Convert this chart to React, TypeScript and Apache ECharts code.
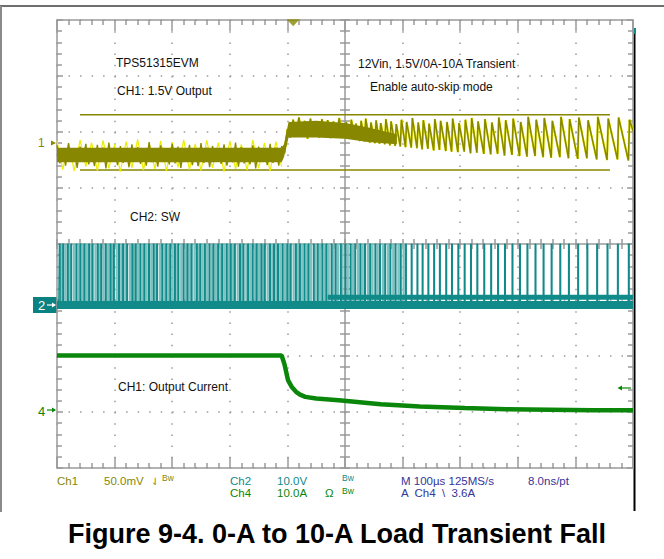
import React, { useEffect, useRef } from "react";
import * as echarts from "echarts";

// Screen units are scope divisions: x -5..5 (100 µs/div), y -4..4

// ---- CH1 (1.5 V output, 50 mV/div) ----
const ch1LimitHigh = 2.31;
const ch1LimitLow = 1.32;
const ch1LimitStart = -4.6;
const ch1LimitEnd = 4.6;

const ch1PreStart = -5.0;
const ch1PreStep = 0.05;
const ch1PreNoise = [
  1.76, 1.44, 1.71, 1.40, 1.80, 1.47, 1.68, 1.36, 1.74, 1.50, 1.79, 1.42, 1.66, 1.39, 1.77, 1.46, 1.72, 1.35, 1.81, 1.49,
  1.69, 1.41, 1.75, 1.45, 1.70, 1.37, 1.78, 1.48, 1.73, 1.43, 1.67, 1.40, 1.82, 1.46, 1.71, 1.38, 1.76, 1.50, 1.69, 1.42,
  1.79, 1.44, 1.74, 1.36, 1.70, 1.47, 1.77, 1.41, 1.68, 1.39, 1.80, 1.45, 1.72, 1.37, 1.75, 1.49, 1.71, 1.43, 1.78, 1.40,
  1.66, 1.46, 1.81, 1.38, 1.73, 1.44, 1.70, 1.42, 1.76, 1.35, 1.74, 1.48, 1.69, 1.41, 1.79, 1.45, 1.72, 1.40, 1.75,
];
const ch1GlowStep = 0.1;
const ch1PreGlow = [
  1.84, 1.33, 1.79, 1.30, 1.86, 1.38, 1.81, 1.31, 1.85, 1.35, 1.78, 1.29, 1.83, 1.36, 1.87, 1.32, 1.80, 1.34, 1.84, 1.30,
  1.82, 1.37, 1.86, 1.33, 1.79, 1.31, 1.85, 1.36, 1.81, 1.29, 1.84, 1.34, 1.78, 1.32, 1.86, 1.35, 1.80, 1.30, 1.83, 1.38,
];

const ch1BandTime = [-5.0, -1.10, -1.06, -0.98, -0.5, 0.0, 0.4, 0.9];
const ch1BandLow = [1.46, 1.46, 1.55, 1.90, 1.90, 1.88, 1.82, 1.78];
const ch1BandHigh = [1.72, 1.72, 1.78, 2.18, 2.20, 2.16, 2.08, 1.96];

const ch1PostStart = -1.05;
const ch1PostStep = 0.05;
const ch1PostNoise = [
  1.62, 2.05, 1.90, 2.22, 1.92, 2.26, 1.95, 2.20, 1.88, 2.24, 1.93, 2.18, 1.90, 2.23, 1.96, 2.21, 1.89, 2.19, 1.94, 2.25, 1.91,
];

// skip-mode switching instants (shared by CH1 ripple teeth and CH2 pulses)
const skipPulseTimes = [
  0.00, 0.09, 0.17, 0.26, 0.34, 0.43, 0.52, 0.60, 0.69, 0.78, 0.87, 0.96, 1.05, 1.15, 1.25, 1.34, 1.44, 1.54, 1.64, 1.75,
  1.85, 1.96, 2.07, 2.18, 2.29, 2.41, 2.53, 2.65, 2.77, 2.90, 3.03, 3.16, 3.30, 3.44, 3.58, 3.73, 3.88, 4.04, 4.20, 4.37,
  4.55, 4.73, 4.92,
];
const ch1Peaks = [
  2.18, 2.22, 2.15, 2.20, 2.24, 2.17, 2.21, 2.16, 2.23, 2.19, 2.14, 2.22, 2.18, 2.25, 2.17, 2.21, 2.15, 2.23, 2.20, 2.18,
  2.24, 2.16, 2.22, 2.25, 2.19, 2.23, 2.17, 2.26, 2.21, 2.24, 2.18, 2.27, 2.22, 2.25, 2.20, 2.27, 2.23, 2.26, 2.21, 2.27,
  2.24, 2.26, 2.22,
];
const ch1Valleys = [
  1.90, 1.88, 1.86, 1.84, 1.83, 1.81, 1.80, 1.79, 1.78, 1.76, 1.75, 1.74, 1.73, 1.72, 1.71, 1.69, 1.70, 1.67, 1.68, 1.66,
  1.65, 1.64, 1.65, 1.62, 1.63, 1.61, 1.60, 1.61, 1.58, 1.59, 1.57, 1.56, 1.57, 1.55, 1.54, 1.55, 1.53, 1.52, 1.53, 1.51,
  1.50, 1.51, 1.49,
];
const ch1EndValue = 2.02;

// ---- CH2 (SW node, 10 V/div) ----
const ch2Ground = -1.09;
const ch2High = 0.0;
const ch2RingLevel = -0.95;
const ch2RingStart = -0.3;
const ch2DensePulseTimes = [
  -4.96, -4.90, -4.82, -4.76, -4.67, -4.60, -4.53, -4.45, -4.39, -4.30, -4.24, -4.16, -4.08, -4.02, -3.93, -3.86, -3.79,
  -3.70, -3.64, -3.56, -3.49, -3.41, -3.33, -3.27, -3.18, -3.11, -3.04, -2.96, -2.90, -2.81, -2.74, -2.67, -2.58, -2.52,
  -2.44, -2.36, -2.29, -2.21, -2.14, -2.06, -1.99, -1.92, -1.83, -1.77, -1.69, -1.61, -1.54, -1.46, -1.40, -1.31, -1.24,
  -1.17, -1.09, -1.01, -0.95, -0.86, -0.79, -0.71, -0.64, -0.55, -0.48, -0.40, -0.33, -0.24, -0.17, -0.08,
];
// fainter pulses from earlier acquisitions (persistence)
const ch2GhostPulseTimes = [
  -4.93, -4.86, -4.79, -4.71, -4.63, -4.56, -4.49, -4.41, -4.34, -4.27, -4.20, -4.12, -4.05, -3.97, -3.89, -3.82, -3.74,
  -3.67, -3.60, -3.52, -3.45, -3.37, -3.30, -3.22, -3.14, -3.07, -3.00, -2.92, -2.85, -2.77, -2.70, -2.62, -2.55, -2.48,
  -2.40, -2.32, -2.25, -2.17, -2.10, -2.02, -1.95, -1.87, -1.80, -1.72, -1.65, -1.57, -1.50, -1.43, -1.35, -1.27, -1.20,
  -1.13, -1.05, -0.98, -0.90, -0.82, -0.75, -0.67, -0.60, -0.52, -0.44, -0.36, -0.29, -0.21, -0.13, -0.05, 0.04, 0.13,
  0.22, 0.30, 0.39, 0.47, 0.56, 0.65, 0.74, 0.83, 0.92, 1.01,
];

// ---- CH4 (output current, 10 A/div) ----
const ch4Time = [-5.0, -1.10, -1.05, -0.99, -0.92, -0.85, -0.78, -0.69, -0.50, -0.11, 0.62, 1.30, 2.08, 2.80, 3.56, 4.30, 5.0];
const ch4Level = [-1.99, -1.99, -2.15, -2.43, -2.56, -2.64, -2.69, -2.73, -2.76, -2.79, -2.86, -2.90, -2.93, -2.95, -2.96, -2.97, -2.97];

const triggerTime = -0.9;

const OLIVE = "#878700";
const YELLOW = "#eded00";
const TEAL = "#118a8a";
const TEAL_LIGHT = "#7fc0c0";
const GREEN = "#0a870a";
const NAVY = "#35359a";
const GRAT = "#9a9a9a";
const FONT = '"Liberation Sans", Arial, sans-serif';

function buildOption() {
  const ch1Pre = ch1PreNoise.map((v, i) => [ch1PreStart + i * ch1PreStep, v]);
  const ch1Glow = ch1PreGlow.map((v, i) => [ch1PreStart + i * ch1GlowStep, v]);
  const ch1Post = ch1PostNoise.map((v, i) => [ch1PostStart + i * ch1PostStep, v]);
  const teeth: number[][] = [];
  skipPulseTimes.forEach((t, i) => {
    teeth.push([t, ch1Valleys[i]]);
    teeth.push([t + 0.02, ch1Peaks[i]]);
  });
  teeth.push([5, ch1EndValue]);
  const ch1Right = ch1Post.concat(teeth);

  const pulses = (times: number[]) => {
    const d: number[][] = [[times[0] - 0.01, ch2Ground]];
    times.forEach((t) => {
      d.push([t, ch2Ground], [t, ch2High], [t + 0.015, ch2High], [t + 0.015, ch2Ground]);
    });
    return d;
  };
  const sw = pulses(ch2DensePulseTimes.concat(skipPulseTimes));
  sw.push([5, ch2Ground]);
  const ghost = pulses(ch2GhostPulseTimes);

  const ch4 = ch4Time.map((t, i) => [t, ch4Level[i]]);

  const ls = (w: number) => ({ color: GRAT, width: w });
  const xBase = { type: "value", min: -5, max: 5, interval: 1, axisLabel: { show: false }, splitLine: { show: false }, silent: true };
  const yBase = { type: "value", min: -4, max: 4, interval: 1, axisLabel: { show: false }, splitLine: { show: false }, silent: true };

  const line = (data: number[][], color: string, width: number, z: number, extra: any = {}) => ({
    type: "line",
    data,
    showSymbol: false,
    symbol: "none",
    silent: true,
    z,
    lineStyle: { color, width },
    ...extra,
  });

  const txt = (text: string, x: number, y: number, fill: string, size = 11.5, extra: any = {}) => ({
    type: "text",
    x,
    y,
    silent: true,
    style: {
      text,
      fill,
      font: `${size}px ${FONT}`,
      textVerticalAlign: "middle",
      verticalAlign: "middle",
      ...extra,
    },
  });

  return {
    animation: false,
    backgroundColor: "#ffffff",
    grid: { left: 57, top: 20, width: 576, height: 448, show: false },
    xAxis: [
      {
        ...xBase,
        position: "bottom",
        axisLine: { show: true, onZero: false, lineStyle: ls(1.5) },
        axisTick: { show: true, inside: true, length: 11, lineStyle: ls(1.5) },
        minorTick: { show: true, splitNumber: 5, length: 5, lineStyle: ls(1.5) },
        splitLine: { show: true, lineStyle: { color: GRAT, width: 1.5, type: [1.5, 9.7] } },
      },
      {
        ...xBase,
        position: "top",
        axisLine: { show: true, onZero: false, lineStyle: ls(1.5) },
        axisTick: { show: true, inside: true, length: 11, lineStyle: ls(1.5) },
        minorTick: { show: true, splitNumber: 5, length: 5, lineStyle: ls(1.5) },
      },
      {
        ...xBase,
        position: "bottom",
        axisLine: { show: true, onZero: true, onZeroAxisIndex: 0, lineStyle: ls(1.5) },
        axisTick: { show: true, inside: true, length: 5, lineStyle: ls(1.5) },
        minorTick: { show: true, splitNumber: 5, length: 5, lineStyle: ls(1.5) },
      },
      {
        ...xBase,
        position: "bottom",
        axisLine: { show: false, onZero: true, onZeroAxisIndex: 0 },
        axisTick: { show: true, inside: false, length: 5, lineStyle: ls(1.5) },
        minorTick: { show: true, splitNumber: 5, length: 5, lineStyle: ls(1.5) },
      },
    ],
    yAxis: [
      {
        ...yBase,
        position: "left",
        axisLine: { show: true, onZero: false, lineStyle: ls(1.5) },
        axisTick: { show: true, inside: true, length: 6, lineStyle: ls(1.5) },
        minorTick: { show: true, splitNumber: 5, length: 5, lineStyle: ls(1.5) },
        splitLine: { show: true, lineStyle: { color: GRAT, width: 1.5, type: [1.5, 10.02] } },
      },
      {
        ...yBase,
        position: "right",
        axisLine: { show: true, onZero: false, lineStyle: ls(1.5) },
        axisTick: { show: true, inside: true, length: 6, lineStyle: ls(1.5) },
        minorTick: { show: true, splitNumber: 5, length: 5, lineStyle: ls(1.5) },
      },
      {
        ...yBase,
        position: "left",
        axisLine: { show: true, onZero: true, onZeroAxisIndex: 0, lineStyle: ls(1.5) },
        axisTick: { show: true, inside: true, length: 5, lineStyle: ls(1.5) },
        minorTick: { show: true, splitNumber: 5, length: 5, lineStyle: ls(1.5) },
      },
      {
        ...yBase,
        position: "left",
        axisLine: { show: false, onZero: true, onZeroAxisIndex: 0 },
        axisTick: { show: true, inside: false, length: 5, lineStyle: ls(1.5) },
        minorTick: { show: true, splitNumber: 5, length: 5, lineStyle: ls(1.5) },
      },
    ],
    series: [
      line([[ch1LimitStart, ch1LimitHigh], [ch1LimitEnd, ch1LimitHigh]], OLIVE, 1.5, 2),
      line([[ch1LimitStart, ch1LimitLow], [ch1LimitEnd, ch1LimitLow]], OLIVE, 1.5, 2),
      line(ch1Glow, YELLOW, 1.2, 3),
      line(ch1Right, YELLOW, 2.2, 3),
      {
        type: "custom",
        silent: true,
        z: 4,
        data: [[ch1BandTime[0], ch1BandLow[0]]],
        renderItem: (_params: any, api: any) => {
          const upper = ch1BandTime.map((t, i) => api.coord([t, ch1BandHigh[i]]));
          const lower = ch1BandTime.map((t, i) => api.coord([t, ch1BandLow[i]])).reverse();
          return { type: "polygon", shape: { points: upper.concat(lower) }, style: { fill: OLIVE } };
        },
      },
      line(ch1Pre.concat(ch1Post.slice(0, 1)), OLIVE, 1.3, 5),
      line(ch1Right, OLIVE, 1.5, 5),
      line(ghost, TEAL_LIGHT, 1.4, 3),
      line([[-5, ch2Ground], [5, ch2Ground]], TEAL, 8, 4),
      line([[ch2RingStart, ch2RingLevel], [5, ch2RingLevel]], TEAL, 5, 4),
      line(sw, TEAL, 1.2, 5),
      line(ch4, GREEN, 4.5, 5),
      {
        type: "scatter",
        data: [[triggerTime, 3.95]],
        symbol: "triangle",
        symbolRotate: 180,
        symbolSize: [13, 7],
        silent: true,
        z: 6,
        itemStyle: { color: OLIVE },
      },
    ],
    graphic: [
      { type: "line", silent: true, shape: { x1: 0, y1: 6, x2: 664, y2: 6 }, style: { stroke: "#6e6e6e", lineWidth: 2 } },
      { type: "line", silent: true, shape: { x1: 1, y1: 6, x2: 1, y2: 512 }, style: { stroke: "#8a8a8a", lineWidth: 2 } },
      { type: "line", silent: true, shape: { x1: 634.5, y1: 29, x2: 634.5, y2: 511 }, style: { stroke: "#000", lineWidth: 2 } },
      { type: "rect", silent: true, shape: { x: 633, y: 28, width: 3, height: 6 }, style: { fill: TEAL } },
      // channel markers
      txt("1", 38, 143, OLIVE, 12),
      { type: "polygon", silent: true, shape: { points: [[51, 140.5], [56, 143], [51, 145.5]] }, style: { fill: OLIVE } },
      { type: "rect", silent: true, shape: { x: 33, y: 297, width: 24, height: 16 }, style: { fill: "#0a8282" } },
      txt("2", 38, 305.5, "#ffffff", 13),
      { type: "line", silent: true, shape: { x1: 47, y1: 305, x2: 55, y2: 305 }, style: { stroke: "#fff", lineWidth: 1.2 } },
      { type: "polygon", silent: true, shape: { points: [[52, 302.5], [56, 305], [52, 307.5]] }, style: { fill: "#fff" } },
      txt("4", 38, 411, GREEN, 13),
      { type: "line", silent: true, shape: { x1: 47, y1: 410, x2: 55, y2: 410 }, style: { stroke: GREEN, lineWidth: 1.2 } },
      { type: "polygon", silent: true, shape: { points: [[52, 407.5], [56, 410], [52, 412.5]] }, style: { fill: GREEN } },
      { type: "line", silent: true, shape: { x1: 619, y1: 388, x2: 631, y2: 388 }, style: { stroke: GREEN, lineWidth: 1.2 } },
      { type: "polygon", silent: true, shape: { points: [[622, 385.5], [617.5, 388], [622, 390.5]] }, style: { fill: GREEN } },
      // annotations
      txt("TPS51315EVM", 116, 63, "#111", 12),
      txt("CH1: 1.5V Output", 117, 91, "#111", 12),
      txt("12Vin, 1.5V/0A-10A Transient", 358, 64, "#111", 12),
      txt("Enable auto-skip mode", 370, 87, "#111", 12),
      txt("CH2: SW", 130, 217, "#111", 12),
      txt("CH1: Output Current", 118, 387, "#111", 12),
      // readout
      txt("Ch1", 57, 481, OLIVE),
      txt("50.0mV", 104, 481, OLIVE),
      txt("⇃", 151, 481, OLIVE, 10),
      txt("Bw", 162, 478, OLIVE, 8.5),
      txt("Ch2", 230, 481, TEAL),
      txt("10.0V", 277, 481, TEAL),
      txt("Bw", 342, 478, TEAL, 8.5),
      txt("Ch4", 230, 493, GREEN),
      txt("10.0A", 277, 493, GREEN),
      txt("Ω", 325, 493, GREEN),
      txt("Bw", 342, 491, GREEN, 8.5),
      txt("M 100µs 125MS/s", 401, 481, NAVY),
      txt("8.0ns/pt", 528, 481, NAVY),
      txt("A  Ch4  \\  3.6A", 401, 493, NAVY),
      // caption
      {
        type: "text",
        x: 337,
        y: 534,
        silent: true,
        style: {
          text: "Figure 9-4. 0-A to 10-A Load Transient Fall",
          fill: "#000",
          font: `bold 27px ${FONT}`,
          textAlign: "center",
          align: "center",
          textVerticalAlign: "middle",
          verticalAlign: "middle",
        },
      },
    ],
  };
}

export default function App() {
  const ref = useRef<HTMLDivElement>(null);
  useEffect(() => {
    if (!ref.current) return;
    const chart = echarts.init(ref.current, undefined, { renderer: "svg" });
    chart.setOption(buildOption() as any);
    return () => chart.dispose();
  }, []);
  return (
    <div
      ref={ref}
      style={{ position: "absolute", left: 0, top: 0, width: 664, height: 559, background: "#ffffff" }}
    />
  );
}
